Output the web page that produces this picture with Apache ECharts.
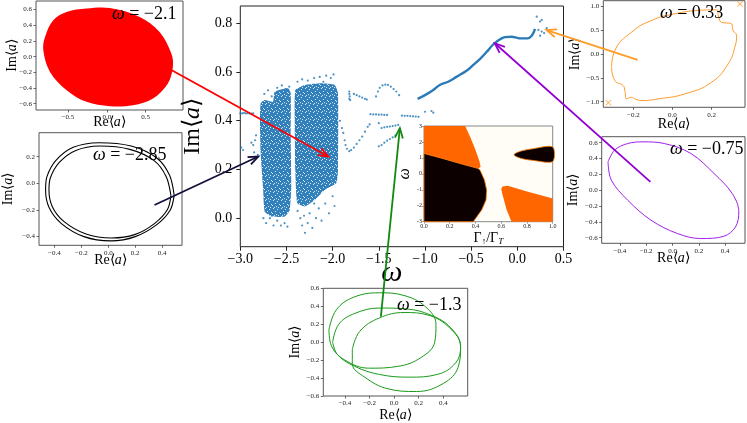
<!DOCTYPE html>
<html>
<head>
<meta charset="utf-8">
<script src="https://cdn.jsdelivr.net/npm/echarts@6/dist/echarts.min.js"></script>
<style>
  html, body { margin: 0; padding: 0; background: #fff; }
  #chart { width: 747px; height: 423px; }
</style>
</head>
<body>
<div id="chart"></div>
<script>
// ---- main panel: Im<a> vs omega ----
// outlines of the two dense chaotic bands
const chaosBandLeft = [
  [-2.779, 0.472], [-2.736, 0.485], [-2.646, 0.478], [-2.628, 0.519], [-2.483, 0.533],
  [-2.454, 0.513], [-2.454, 0.335], [-2.448, 0.13], [-2.465, 0.034], [-2.519, 0.007],
  [-2.664, 0.007], [-2.736, 0.027], [-2.754, 0.13], [-2.779, 0.267], [-2.787, 0.403]
];
const chaosBandRight = [
  [-2.404, 0.526], [-2.303, 0.547], [-2.123, 0.554], [-1.978, 0.547], [-1.942, 0.513],
  [-1.942, 0.198], [-1.96, 0.144], [-2.086, 0.116], [-2.194, 0.075], [-2.303, 0.048],
  [-2.383, 0.062], [-2.404, 0.198], [-2.41, 0.403]
];
const bandEdgeDots = [
  [-2.74, 0.51], [-2.70, 0.525], [-2.66, 0.50], [-2.60, 0.535], [-2.55, 0.545], [-2.51, 0.53], [-2.47, 0.54],
  [-2.75, 0.0], [-2.72, -0.02], [-2.68, 0.0], [-2.64, -0.03], [-2.60, -0.01], [-2.56, -0.03],
  [-2.52, -0.02], [-2.49, -0.035], [-2.70, 0.04], [-2.58, 0.02],
  [-2.38, 0.56], [-2.33, 0.57], [-2.27, 0.565], [-2.20, 0.575], [-2.14, 0.58], [-2.07, 0.585],
  [-2.02, 0.575], [-1.99, 0.59], [-2.10, 0.56],
  [-2.38, 0.03], [-2.35, 0.0], [-2.33, -0.03], [-2.30, -0.06], [-2.27, -0.02], [-2.25, 0.02],
  [-2.22, -0.04], [-2.18, 0.0], [-2.15, 0.04], [-2.12, -0.01], [-2.08, 0.06], [-2.04, 0.02],
  [-2.0, 0.09], [-1.98, 0.05], [-2.2, 0.06], [-2.31, 0.01]
];
const isolatedDots = [
  [-3.0, 0.43], [-2.98, 0.43], [-2.96, 0.432], [-2.94, 0.43], [-2.92, 0.431], [-2.90, 0.43], [-2.88, 0.429], [-2.86, 0.43],
  [-2.99, 0.29], [-2.97, 0.28],
  [-2.88, 0.31], [-2.86, 0.30], [-2.84, 0.32], [-2.83, 0.34], [-2.85, 0.27], [-2.82, 0.25], [-2.81, 0.26],
  [-1.82, 0.52], [-1.82, 0.51], [-1.815, 0.50], [-1.82, 0.49], [-1.81, 0.485],
  [-1.77, 0.51], [-1.74, 0.505], [-1.71, 0.50], [-1.68, 0.495], [-1.65, 0.49], [-1.63, 0.487],
  [-1.53, 0.50], [-1.51, 0.52], [-1.49, 0.535], [-1.46, 0.545], [-1.43, 0.548], [-1.40, 0.547],
  [-1.37, 0.54], [-1.34, 0.53], [-1.31, 0.52], [-1.28, 0.505],
  [-1.92, 0.40], [-1.90, 0.37], [-1.885, 0.35], [-1.87, 0.32], [-1.86, 0.30], [-1.845, 0.285], [-1.82, 0.275],
  [-1.80, 0.28], [-1.77, 0.29], [-1.74, 0.305], [-1.71, 0.32], [-1.68, 0.335], [-1.65, 0.355], [-1.62, 0.375], [-1.60, 0.385],
  [-1.59, 0.427], [-1.56, 0.426], [-1.53, 0.426], [-1.50, 0.425], [-1.47, 0.425], [-1.44, 0.424], [-1.41, 0.424],
  [-1.25, 0.421], [-1.22, 0.42], [-1.19, 0.42], [-1.16, 0.419], [-1.13, 0.418], [-1.10, 0.417], [-1.07, 0.416],
  [-1.50, 0.39], [-1.47, 0.37], [-1.44, 0.373], [-1.41, 0.375], [-1.38, 0.376], [-1.35, 0.378], [-1.32, 0.38], [-1.29, 0.383],
  [-1.50, 0.295], [-1.47, 0.30], [-1.44, 0.31], [-1.41, 0.318], [-1.38, 0.325], [-1.35, 0.332], [-1.32, 0.34],
  [-1.0, 0.437], [-0.93, 0.44], [-0.91, 0.433]
];
const smoothBranch = [
  [-1.08, 0.49], [-1.0, 0.505], [-0.91, 0.526], [-0.84, 0.547], [-0.75, 0.56], [-0.66, 0.58],
  [-0.55, 0.605], [-0.477, 0.629], [-0.40, 0.655], [-0.331, 0.683], [-0.27, 0.71], [-0.223, 0.725],
  [-0.17, 0.738], [-0.133, 0.743], [-0.06, 0.745], [0.0, 0.74], [0.03, 0.738], [0.108, 0.738],
  [0.156, 0.749], [0.192, 0.777]
];
const tailDots = [
  [0.21, 0.827], [0.246, 0.807], [0.264, 0.814], [0.228, 0.773], [0.264, 0.766], [0.318, 0.78], [0.246, 0.749], [0.29, 0.76]
];

// ---- phase diagram inset (Gamma_up/Gamma_T, omega) ----
const orangeTopLeft = [[0, 3], [0.32, 3], [0.36, 2.3], [0.40, 1.5], [0.43, 0.8], [0.44, 0.45], [0.42, 0.32], [0.3, 0.6], [0.15, 0.95], [0, 1.28]];
const blackLowerLeft = [[0, 1.28], [0.15, 0.95], [0.3, 0.6], [0.42, 0.34], [0.435, 0.24], [0.47, -0.39], [0.487, -1.02], [0.482, -1.64], [0.448, -2.27], [0.383, -3], [0, -3]];
const blackLens = [[0.70, 1.2], [0.75, 1.42], [0.85, 1.58], [1.0, 1.68], [1.0, 0.78], [0.85, 0.84], [0.75, 0.98]];
const orangeLowerRight = [[0.61, -0.8], [0.65, -0.74], [0.8, -1.1], [1.0, -1.55], [1.0, -3], [0.68, -3], [0.64, -2.2], [0.61, -1.3], [0.60, -0.95]];

// ---- trajectory insets (Re<a>, Im<a>) ----
const redBlob = [
  [-0.688, 0.465], [-0.517, 0.571], [-0.261, 0.614], [0.038, 0.62], [0.423, 0.507], [0.679, 0.316],
  [0.83, 0.041], [0.85, -0.13], [0.786, -0.341], [0.594, -0.532], [0.337, -0.618], [0.038, -0.631],
  [-0.261, -0.576], [-0.516, -0.427], [-0.73, -0.194], [-0.816, 0.083], [-0.794, 0.252]
];
const blackOuter = [
  [0.489, -0.09], [0.455, 0.06], [0.36, 0.19], [0.17, 0.28], [-0.07, 0.305], [-0.26, 0.27],
  [-0.39, 0.17], [-0.455, 0.05], [-0.465, -0.05], [-0.44, -0.18], [-0.35, -0.30], [-0.18, -0.40],
  [0.02, -0.432], [0.2, -0.40], [0.36, -0.31], [0.46, -0.2], [0.489, -0.09]
];
const blackInner = [
  [0.465, -0.09], [0.43, 0.05], [0.34, 0.17], [0.16, 0.255], [-0.065, 0.28], [-0.245, 0.245],
  [-0.365, 0.155], [-0.43, 0.04], [-0.44, -0.05], [-0.415, -0.175], [-0.33, -0.285], [-0.165, -0.38],
  [0.025, -0.41], [0.195, -0.385], [0.345, -0.3], [0.44, -0.195], [0.465, -0.09]
];
const orangeLoop = [
  [-0.311, -0.28], [-0.294, 0.069], [-0.209, 0.452], [-0.107, 0.697], [0.012, 0.837], [0.131, 0.906],
  [0.224, 0.92], [0.236, 0.766], [0.25, 0.661], [0.301, 0.628], [0.309, 0.487], [0.327, 0.383],
  [0.318, 0.138], [0.284, -0.209], [0.199, -0.594], [0.063, -0.837], [-0.073, -0.941], [-0.158, -0.977],
  [-0.192, -0.941], [-0.209, -0.908], [-0.235, -0.941], [-0.243, -0.768], [-0.252, -0.663],
  [-0.294, -0.559], [-0.311, -0.28]
];
const orangeMarks = [[-0.327, -1.02], [0.345, 1.04]];
const purpleLoop = [
  [-0.49, 0.358], [-0.44, 0.506], [-0.34, 0.59], [-0.226, 0.611], [-0.063, 0.59], [0.139, 0.464],
  [0.315, 0.211], [0.453, -0.042], [0.503, -0.274], [0.478, -0.464], [0.39, -0.582], [0.214, -0.611],
  [0.038, -0.548], [-0.163, -0.38], [-0.34, -0.127], [-0.465, 0.127], [-0.49, 0.358]
];
const greenLoopA = [
  [-0.53, 0.14], [-0.47, 0.36], [-0.33, 0.50], [-0.12, 0.55], [0.08, 0.52], [0.25, 0.40], [0.34, 0.20],
  [0.33, 0.0], [0.22, -0.17], [0.03, -0.27], [-0.2, -0.29], [-0.4, -0.2], [-0.51, -0.04], [-0.53, 0.14]
];
const greenLoopB = [
  [-0.50, 0.0], [-0.45, 0.20], [-0.32, 0.32], [-0.12, 0.38], [0.10, 0.37], [0.30, 0.30], [0.46, 0.16],
  [0.54, -0.05], [0.50, -0.23], [0.35, -0.36], [0.12, -0.39], [-0.12, -0.36], [-0.32, -0.27], [-0.46, -0.14], [-0.50, 0.0]
];
const greenLoopC = [
  [-0.34, -0.08], [-0.28, 0.12], [-0.12, 0.27], [0.08, 0.33], [0.28, 0.30], [0.45, 0.16], [0.54, -0.05],
  [0.52, -0.28], [0.40, -0.46], [0.18, -0.55], [-0.05, -0.52], [-0.24, -0.39], [-0.34, -0.24], [-0.34, -0.08]
];

// arrows: [gridIndex, point] -> [gridIndex, point]
const arrowLinks = [
  { color: '#ff0000', from: [2, [0.30, 0.12]], to: [0, [-2.048, 0.253]] },
  { color: '#10103a', from: [3, [0.343, -0.163]], to: [0, [-2.805, 0.253]] },
  { color: '#128a12', from: [6, [-0.108, 0.285]], to: [0, [-1.272, 0.37]] },
  { color: '#9400d3', from: [5, [-0.168, 0.105]], to: [0, [-0.244, 0.718]] },
  { color: '#ff9b29', from: [4, [-0.178, -0.126]], to: [0, [0.316, 0.772]] }
];

const F = 'Liberation Serif';
const fmt = v => (v < 0 ? '\u2212' : '') + Math.abs(v).toFixed(1);
const richName = size => ({
  n: { fontFamily: F, fontSize: size, color: '#000' },
  i: { fontFamily: F, fontSize: size, fontStyle: 'italic', color: '#000' }
});
const noLine = { show: false, onZero: false };

// min/max are not on the tick grid, so ticks come from splitNumber and the edge labels are hidden
function insetAxes(gi, xr, yr, xSplit, ySplit, xGap, yGap) {
  const lab = { fontFamily: F, fontSize: 7, color: '#222', formatter: fmt, margin: 4, showMinLabel: false, showMaxLabel: false };
  const tick = { length: 2.5, lineStyle: { color: '#444', width: 0.8 } };
  return {
    x: {
      gridIndex: gi, type: 'value', min: xr[0], max: xr[1], splitNumber: xSplit,
      axisLine: noLine, splitLine: { show: false }, axisTick: tick, axisLabel: lab,
      name: '{n|Re\u27e8}{i|a}{n|\u27e9}', nameLocation: 'middle', nameGap: xGap, nameMoveOverlap: false,
      nameTextStyle: { rich: richName(14) }
    },
    y: {
      gridIndex: gi, type: 'value', min: yr[0], max: yr[1], splitNumber: ySplit,
      axisLine: noLine, splitLine: { show: false }, axisTick: tick, axisLabel: lab,
      name: '{n|Im\u27e8}{i|a}{n|\u27e9}', nameLocation: 'middle', nameGap: yGap, nameMoveOverlap: false,
      nameTextStyle: { rich: richName(14) }
    }
  };
}

const insets = [
  insetAxes(2, [-0.91, 0.98], [-0.68, 0.71], 4, 7, 5, 17),
  insetAxes(3, [-0.514, 0.547], [-0.465, 0.38], 5, 4, 8, 24),
  insetAxes(4, [-0.353, 0.37], [-1.117, 1.11], 4, 4, 10, 21),
  insetAxes(5, [-0.538, 0.55], [-0.671, 0.676], 5, 7, 8, 21),
  insetAxes(6, [-0.576, 0.598], [-0.6, 0.6], 6, 6, 12, 21)
];
insets[4].y.interval = 0.2;
insets[4].y.axisLabel = Object.assign({}, insets[4].y.axisLabel, { showMinLabel: true, showMaxLabel: true });

// speckled fill for the dense bands (fixed tile, just a texture)
function speckleTile() {
  const c = document.createElement('canvas');
  c.width = 8; c.height = 8;
  const g = c.getContext('2d');
  g.fillStyle = '#3281bc';
  g.fillRect(0, 0, 8, 8);
  g.fillStyle = 'rgba(255,255,255,0.8)';
  [[1, 0], [5, 1], [3, 3], [7, 4], [0, 5], [4, 6], [6, 7], [2, 7]].forEach(p => g.fillRect(p[0], p[1], 1, 1));
  return c;
}
const bandFill = { image: speckleTile(), repeat: 'repeat' };

function polygon(axisIdx, pts, fill, stroke, smooth) {
  return {
    type: 'custom', xAxisIndex: axisIdx, yAxisIndex: axisIdx, silent: true, data: pts,
    renderItem: (params, api) => {
      if (params.dataIndex !== 0) return null;
      return {
        type: 'polygon', shape: { points: pts.map(p => api.coord(p)), smooth: smooth || 0 },
        style: { fill: fill, stroke: stroke || null, lineWidth: stroke ? 0.8 : 0 }
      };
    }
  };
}
function loop(axisIdx, pts, color, width, smooth) {
  return {
    type: 'line', xAxisIndex: axisIdx, yAxisIndex: axisIdx, data: pts, smooth: smooth || 0.5,
    showSymbol: false, silent: true, lineStyle: { color: color, width: width || 1 }
  };
}

const gridFrame = { show: true, backgroundColor: '#fff', borderColor: '#555', borderWidth: 1 };
const chart = echarts.init(document.getElementById('chart'), null, { renderer: 'canvas' });

chart.setOption({
  animation: false,
  grid: [
    Object.assign({ left: 240.3, top: 6, width: 323.2, height: 240.7 }, gridFrame, { borderColor: '#222' }),
    Object.assign({ left: 424, top: 126, width: 128.7, height: 95.7 }, gridFrame, { backgroundColor: '#fffdf6', borderColor: '#888' }),
    Object.assign({ left: 36, top: 1, width: 147, height: 109 }, gridFrame),
    Object.assign({ left: 36, top: 132.7, width: 146, height: 112.6 }, gridFrame),
    Object.assign({ left: 603.3, top: 0.7, width: 141.7, height: 106.6 }, gridFrame),
    Object.assign({ left: 601.7, top: 136.7, width: 143.3, height: 106.6 }, gridFrame),
    Object.assign({ left: 323.3, top: 288.3, width: 144.4, height: 107.7 }, gridFrame)
  ],
  xAxis: [
    {
      gridIndex: 0, type: 'value', min: -3, max: 0.5, interval: 0.5,
      axisLine: noLine, splitLine: { show: false },
      axisTick: { length: 4, lineStyle: { color: '#222' } },
      axisLabel: { fontFamily: F, fontSize: 14, color: '#000', margin: 6, formatter: fmt },
      name: '\u03c9', nameLocation: 'middle', nameGap: 11, nameMoveOverlap: false,
      nameTextStyle: { fontFamily: F, fontStyle: 'italic', fontSize: 30, color: '#000', padding: [0, 20, 0, 0] }
    },
    {
      gridIndex: 1, type: 'value', min: 0, max: 1, interval: 0.2,
      axisLine: noLine, splitLine: { show: false },
      axisTick: { length: 2, lineStyle: { color: '#666', width: 0.6 } },
      axisLabel: { fontFamily: F, fontSize: 6, color: '#222', margin: 2, formatter: v => v.toFixed(1) },
      name: '{n|\u0393}{s|\u2191}{n|/\u0393}{t|T}', nameLocation: 'middle', nameGap: 9,
      nameTextStyle: { rich: {
        n: { fontFamily: F, fontSize: 14, color: '#000' },
        s: { fontFamily: F, fontSize: 9, color: '#000', padding: [6, 0, 0, 0] },
        t: { fontFamily: F, fontSize: 9, fontStyle: 'italic', color: '#000', padding: [6, 0, 0, 0] }
      } }
    },
    insets[0].x, insets[1].x, insets[2].x, insets[3].x, insets[4].x
  ],
  yAxis: [
    {
      gridIndex: 0, type: 'value', min: -0.117, max: 0.871, splitNumber: 5,
      axisLine: noLine, splitLine: { show: false },
      axisTick: { length: 4, lineStyle: { color: '#222' } },
      axisLabel: { fontFamily: F, fontSize: 14, color: '#000', margin: 8, formatter: fmt, showMinLabel: false, showMaxLabel: false },
      name: '{n|Im\u27e8}{i|a}{n|\u27e9}', nameLocation: 'middle', nameGap: 36, nameMoveOverlap: false,
      nameTextStyle: { rich: richName(24) }
    },
    {
      gridIndex: 1, type: 'value', min: -3, max: 3, interval: 1,
      axisLine: noLine, splitLine: { show: false },
      axisTick: { length: 2, lineStyle: { color: '#666', width: 0.6 } },
      axisLabel: { fontFamily: F, fontSize: 6, color: '#222', margin: 2 },
      name: '\u03c9', nameLocation: 'middle', nameGap: 5,
      nameTextStyle: { fontFamily: F, fontStyle: 'italic', fontSize: 16, color: '#000' }
    },
    insets[0].y, insets[1].y, insets[2].y, insets[3].y, insets[4].y
  ],
  series: [
    polygon(0, chaosBandLeft, bandFill, null, 0.15),
    polygon(0, chaosBandRight, bandFill, null, 0.15),
    {
      type: 'scatter', xAxisIndex: 0, yAxisIndex: 0, silent: true, symbolSize: 2.2,
      itemStyle: { color: '#1f77b4' }, data: bandEdgeDots.concat(isolatedDots, tailDots)
    },
    {
      type: 'line', xAxisIndex: 0, yAxisIndex: 0, data: smoothBranch, smooth: 0.4, showSymbol: false,
      silent: true, lineStyle: { color: '#2a7ab8', width: 2.4 }
    },
    polygon(1, orangeTopLeft, '#ff6600'),
    polygon(1, blackLowerLeft, '#0c0000', '#ff7a00'),
    polygon(1, blackLens, '#0c0000', '#ff7a00', 0.3),
    polygon(1, orangeLowerRight, '#ff6600'),
    polygon(2, redBlob, '#ff0000', null, 0.35),
    loop(3, blackOuter, '#000', 1.1, 0.3),
    loop(3, blackInner, '#000', 1.1, 0.3),
    loop(4, orangeLoop, '#ff9b29', 1),
    {
      type: 'scatter', xAxisIndex: 4, yAxisIndex: 4, silent: true, data: orangeMarks, symbolSize: 6,
      symbol: 'path://M0,1L1,0L5,4L9,0L10,1L6,5L10,9L9,10L5,6L1,10L0,9L4,5Z',
      itemStyle: { color: '#ff9b29' }
    },
    loop(5, purpleLoop, '#a020f0', 1, 0.35),
    loop(6, greenLoopA, '#1a9a1a', 1, 0.4),
    loop(6, greenLoopB, '#1a9a1a', 1, 0.4),
    loop(6, greenLoopC, '#1a9a1a', 1, 0.4)
  ]
});

// annotations: omega labels and arrows between insets and main panel
const omegaLabels = [
  { text: '= \u22122.1', left: 112, top: 5 },
  { text: '= \u22122.85', left: 93, top: 146 },
  { text: '= 0.33', left: 660, top: 4 },
  { text: '= \u22120.75', left: 670, top: 140 },
  { text: '= \u22121.3', left: 397, top: 296 }
];
const graphics = omegaLabels.map(l => ({
  type: 'text', left: l.left, top: l.top, z: 50,
  style: {
    text: '{i|\u03c9} ' + l.text, fill: '#000', font: '18px "' + F + '"',
    rich: { i: { fontFamily: F, fontSize: 18, fontStyle: 'italic' } }
  }
}));
arrowLinks.forEach(a => {
  const p0 = chart.convertToPixel({ gridIndex: a.from[0] }, a.from[1]);
  const p1 = chart.convertToPixel({ gridIndex: a.to[0] }, a.to[1]);
  const dx = p1[0] - p0[0], dy = p1[1] - p0[1], len = Math.hypot(dx, dy);
  const ux = dx / len, uy = dy / len, L = 10, W = 4;
  graphics.push({
    type: 'polyline', z: 60, silent: true,
    shape: { points: [p0, p1] }, style: { stroke: a.color, lineWidth: 1.8 }
  });
  graphics.push({
    type: 'polyline', z: 60, silent: true,
    shape: { points: [
      [p1[0] - L * ux - W * uy, p1[1] - L * uy + W * ux], p1,
      [p1[0] - L * ux + W * uy, p1[1] - L * uy - W * ux]
    ] },
    style: { stroke: a.color, lineWidth: 1.8, fill: null }
  });
});
chart.setOption({ graphic: graphics });
</script>
</body>
</html>
